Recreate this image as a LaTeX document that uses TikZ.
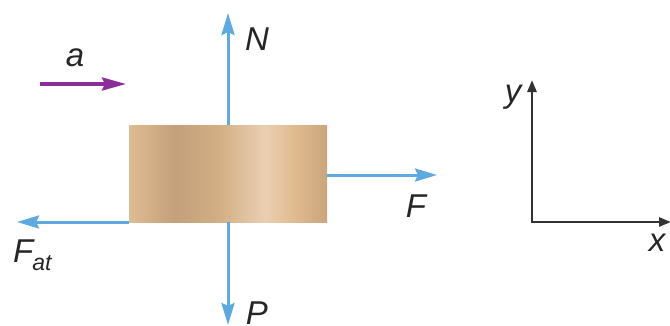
\documentclass[tikz,border=0pt]{standalone}
\usepackage{fontspec}
\setmainfont{Liberation Sans}
\usetikzlibrary{arrows.meta}
\definecolor{fblue}{HTML}{5DAAE0}
\definecolor{apurple}{HTML}{8A2E98}
\definecolor{axgray}{HTML}{333333}
\definecolor{t1}{HTML}{E0BC92}
\definecolor{t2}{HTML}{C3A07A}
\definecolor{t3}{HTML}{D3AF86}
\definecolor{t4}{HTML}{EBCFB2}
\definecolor{t5}{HTML}{E0BA8E}
\definecolor{t6}{HTML}{CBA47D}
\tikzset{
  force/.style={draw=fblue, line width=3pt, -{Stealth[length=22pt,width=13pt,inset=3pt]}},
  accel/.style={draw=apurple, line width=3.5pt, -{Stealth[length=24pt,width=13pt,inset=3pt]}},
  axis/.style={draw=axgray, line width=2.6pt, -{Triangle[length=12pt,width=9pt]}},
  lbl/.style={font=\fontsize{33}{34}\selectfont\itshape, text=black!85, inner sep=0pt}
}
\begin{document}
\begin{tikzpicture}[x=1pt,y=-1pt]
\useasboundingbox (0,0) rectangle (670,325);
% block
\shade[left color=t1,right color=t2] (129,125) rectangle (175,222);
\shade[left color=t2,right color=t3] (175,125) rectangle (220,222);
\shade[left color=t3,right color=t4] (220,125) rectangle (265,222);
\shade[left color=t4,right color=t5] (265,125) rectangle (295,222);
\shade[left color=t5,right color=t6] (295,125) rectangle (327,222);
\node[minimum width=198pt, minimum height=97pt, inner sep=0pt] (block) at (228,173.5) {};
\coordinate (btop) at (228,125);
\coordinate (bbot) at (228,222);
\coordinate (bright) at (327,175);
\coordinate (bleft) at (129,222);
\coordinate (Ntip) at (228,13);
\coordinate (Ptip) at (228,325);
\coordinate (Ftip) at (437,175);
\coordinate (Fattip) at (17,222);
\coordinate (a0) at (40,84);
\coordinate (a1) at (126,84);
\draw[force] (btop) -- (Ntip);
\draw[force] (bbot) -- (Ptip);
\draw[force] (bright) -- (Ftip);
\draw[force] (bleft) -- (Fattip);
\draw[accel] (a0) -- (a1);
\node[lbl] (N) at (257,39) {N};
\node[lbl] (P) at (257,313) {P};
\node[lbl] (F) at (416,206) {F};
\node[lbl, anchor=base west] (Fat) at (13,262) {F\kern-1pt\raisebox{-8pt}{\fontsize{23}{23}\selectfont at}};
\node[lbl] (a) at (75,58) {a};
% axes
\coordinate (O) at (532,222);
\coordinate (Y) at (532,80);
\coordinate (X) at (671,222);
\draw[axis] (O) -- (Y);
\draw[axis] (O) -- (X);
\draw[axgray, line width=2.6pt] (532,223.3) -- (532,220);
\node[lbl] (y) at (513,97) {y};
\node[lbl] (x) at (657,243) {x};
\end{tikzpicture}
\end{document}
